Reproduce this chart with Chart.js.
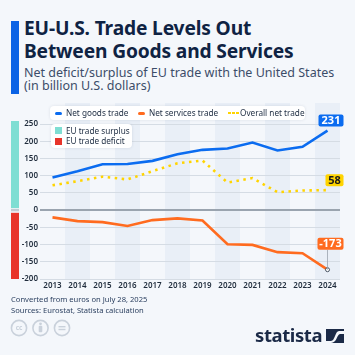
<!DOCTYPE html>
<html>
<head>
<meta charset="utf-8">
<script src="https://cdn.jsdelivr.net/npm/chart.js@4.4.1/dist/chart.umd.min.js"></script>
<style>
  html, body { margin:0; padding:0; }
  body { width:355px; height:355px; background:#f4f7fb; position:relative; overflow:hidden; font-family:"Noto Sans", "Open Sans", sans-serif; }
  #accent { position:absolute; left:11px; top:21px; width:8px; height:73px; background:#0b63e5; }
  #title { position:absolute; left:24px; top:17px; font-size:19.2px; line-height:22.6px; font-weight:700; color:#0f2343; letter-spacing:-0.15px; white-space:nowrap; }
  #subtitle { position:absolute; left:24px; top:66px; font-size:12.5px; line-height:13px; color:#3c4d69; white-space:nowrap; }
  #chartWrap { position:absolute; left:0; top:95px; width:355px; height:200px; }
  .legend { position:absolute; background:#ffffff; border-radius:4px; box-shadow:0 0 3px rgba(30,50,80,0.12); font-size:8.2px; color:#1c2b40; white-space:nowrap; }
  #leg1 { left:50px; top:106px; width:255px; height:14px; }
  #leg2 { left:51px; top:124px; width:81px; height:24px; }
  .li { position:absolute; line-height:10px; }
  .mk { position:absolute; }
  #footer { position:absolute; left:11px; top:294px; font-size:7.6px; line-height:11px; color:#2a3f5f; white-space:nowrap; }
  #logo { position:absolute; left:255px; top:322px; font-size:18.5px; font-weight:700; color:#1b2a47; letter-spacing:-0.4px; }
</style>
</head>
<body>
<div id="accent"></div>
<div id="title">EU-U.S. Trade Levels Out<br>Between Goods and Services</div>
<div id="subtitle">Net deficit/surplus of EU trade with the United States<br>(in billion U.S. dollars)</div>
<div id="chartWrap"><canvas id="c" width="355" height="200"></canvas></div>

<div class="legend" id="leg1">
  <div class="mk" style="left:5px;top:5.5px;width:7px;height:3px;border-radius:1.5px;background:#0b6cf0"></div>
  <div class="li" style="left:16px;top:2px">Net goods trade</div>
  <div class="mk" style="left:88px;top:5.5px;width:7px;height:3px;border-radius:1.5px;background:#ff6b1f"></div>
  <div class="li" style="left:99px;top:2px">Net services trade</div>
  <div class="mk" style="left:178px;top:5.5px;width:2.5px;height:2.5px;background:#ffd400"></div>
  <div class="mk" style="left:182px;top:5.5px;width:2.5px;height:2.5px;background:#ffd400"></div>
  <div class="mk" style="left:186px;top:5.5px;width:2.5px;height:2.5px;background:#ffd400"></div>
  <div class="li" style="left:190px;top:2px">Overall net trade</div>
</div>
<div class="legend" id="leg2">
  <div class="mk" style="left:4px;top:3px;width:7px;height:7px;background:#7fded3"></div>
  <div class="li" style="left:15px;top:1.5px">EU trade surplus</div>
  <div class="mk" style="left:4px;top:13.5px;width:7px;height:7px;background:#e8342a"></div>
  <div class="li" style="left:15px;top:12px">EU trade deficit</div>
</div>

<div id="footer">Converted from euros on July 28, 2025<br>Sources: Eurostat, Statista calculation</div>
<svg style="position:absolute;left:10px;top:319px" width="64" height="18" viewBox="0 0 64 18">
  <g fill="none" stroke="#c9d1db" stroke-width="1.6">
    <circle cx="9" cy="9" r="7.6"/>
    <circle cx="30.5" cy="9" r="7.6"/>
    <circle cx="52" cy="9" r="7.6"/>
  </g>
  <text x="9" y="11.3" font-size="6.5" font-weight="700" text-anchor="middle" fill="#c9d1db" font-family="Noto Sans">cc</text>
  <circle cx="30.5" cy="4.8" r="1.4" fill="#c9d1db"/>
  <rect x="28.7" y="6.8" width="3.6" height="6.5" rx="1" fill="#c9d1db"/>
  <rect x="48.5" y="7" width="7" height="1.4" fill="#c9d1db"/>
  <rect x="48.5" y="9.8" width="7" height="1.4" fill="#c9d1db"/>
</svg>
<div id="logo">statista</div>
<svg style="position:absolute;left:326px;top:329px" width="18" height="14" viewBox="0 0 18 14">
  <rect x="0" y="0" width="18" height="14" fill="#1b2a47"/>
  <path d="M0 12 L5 12 C9 12 9 2 13 2 L18 2 L18 5 L14 5 C11 5 11 14 5 14 L0 14 Z" fill="#f4f7fb"/>
</svg>

<script>
const years = ["2013","2014","2015","2016","2017","2018","2019","2020","2021","2022","2023","2024"];
const netGoods = [95, 113, 133, 134, 143, 162, 175, 179, 196, 173, 184, 231];
const netServices = [-21, -32, -35, -46, -29, -24, -30, -99, -101, -122, -125, -173];
const overallNet = [72, 84, 97, 89, 113, 136, 144, 80, 93, 52, 57, 58];
const yTicks = [250, 200, 150, 100, 50, 0, -50, -100, -150, -200];

const BLUE = "#0b6cf0", ORANGE = "#ff6b1f", YELLOW = "#ffd400";

const decorPlugin = {
  id: "decor",
  beforeDraw(chart) {
    const ctx = chart.ctx, ca = chart.chartArea, x = chart.scales.x, y = chart.scales.y;
    ctx.save();
    const w = (ca.right - ca.left) / years.length;
    for (let i = 1; i < years.length; i += 2) {
      const cx = x.getPixelForValue(i);
      ctx.fillStyle = "#e9eff7";
      ctx.fillRect(cx - w / 2, 8, w, ca.bottom - 8);
    }
    const y0 = y.getPixelForValue(0);
    ctx.fillStyle = "#7fded3";
    ctx.fillRect(11, y.getPixelForValue(250) - 3, 8, y0 - 2 - (y.getPixelForValue(250) - 3));
    ctx.fillStyle = "#c3cad3";
    ctx.fillRect(11, y0 - 1.2, 8, 2.4);
    ctx.fillStyle = "#e8342a";
    ctx.fillRect(11, y0 + 2.7, 8, y.getPixelForValue(-200) - (y0 + 2.7));
    ctx.restore();
  },
  afterDatasetsDraw(chart) {
    const ctx = chart.ctx, x = chart.scales.x, y = chart.scales.y;
    const last = years.length - 1;
    const px = x.getPixelForValue(last);
    const boxes = [
      { v: netGoods[last], bg: BLUE, fg: "#ffffff", w: 25, off: 4, lead: false },
      { v: overallNet[last], bg: YELLOW, fg: "#1a1a1a", w: 18, off: 4, lead: false },
      { v: netServices[last], bg: ORANGE, fg: "#ffffff", w: 26, off: 20, lead: true }
    ];
    ctx.save();
    boxes.forEach(b => {
      const py = y.getPixelForValue(b.v);
      const right = chart.chartArea.right + 3.5;
      const bottom = py - b.off, h = 12;
      if (b.lead) {
        ctx.strokeStyle = "#9aa3ad"; ctx.lineWidth = 0.8;
        ctx.beginPath(); ctx.moveTo(px, bottom); ctx.lineTo(px, py); ctx.stroke();
      }
      ctx.fillStyle = b.bg;
      ctx.beginPath();
      ctx.roundRect(right - b.w, bottom - h, b.w, h, 2);
      ctx.fill();
      ctx.fillStyle = b.fg;
      ctx.font = "700 11px 'Noto Sans'";
      ctx.textAlign = "center"; ctx.textBaseline = "middle";
      ctx.fillText(String(b.v), right - b.w / 2, bottom - h / 2 + 0.5);
    });
    ctx.restore();
  }
};

new Chart(document.getElementById("c"), {
  type: "line",
  data: {
    labels: years,
    datasets: [
      { label: "Net goods trade", data: netGoods, borderColor: BLUE, borderWidth: 2.6, pointRadius: 0, tension: 0 },
      { label: "Net services trade", data: netServices, borderColor: ORANGE, borderWidth: 2.6, tension: 0,
        pointRadius: years.map((_, i) => i === years.length - 1 ? 2 : 0),
        pointBackgroundColor: "#ffffff", pointBorderColor: "#3a4656", pointBorderWidth: 0.9 },
      { label: "Overall net trade", data: overallNet, borderColor: YELLOW, borderWidth: 2.6, borderDash: [2.5, 4.5], pointRadius: 0, tension: 0 }
    ]
  },
  options: {
    responsive: false,
    animation: false,
    devicePixelRatio: 1,
    layout: { padding: { top: 29, right: 15, left: 0, bottom: 0 } },
    plugins: { legend: { display: false }, tooltip: { enabled: false } },
    scales: {
      x: {
        offset: true,
        grid: { display: false, drawTicks: false },
        border: { display: false },
        ticks: { color: "#1f2c3c", font: { family: "Noto Sans", size: 8, weight: "600" }, padding: 2, maxRotation: 0, autoSkip: false },
        afterFit(s) { s.height = 16; }
      },
      y: {
        min: -200, max: 250,
        afterBuildTicks(s) { s.ticks = yTicks.map(v => ({ value: v })); },
        grid: {
          drawTicks: false,
          color: c => c.tick && c.tick.value === 0 ? "#9aa4af" : "#d5dce4",
          lineWidth: c => c.tick && c.tick.value === 0 ? 2 : 1
        },
        border: { display: false },
        ticks: { color: "#1f2c3c", font: { family: "Noto Sans", size: 8, weight: "600" }, padding: 2 },
        afterFit(s) { s.width = 40; }
      }
    }
  },
  plugins: [decorPlugin]
});
</script>
</body>
</html>
